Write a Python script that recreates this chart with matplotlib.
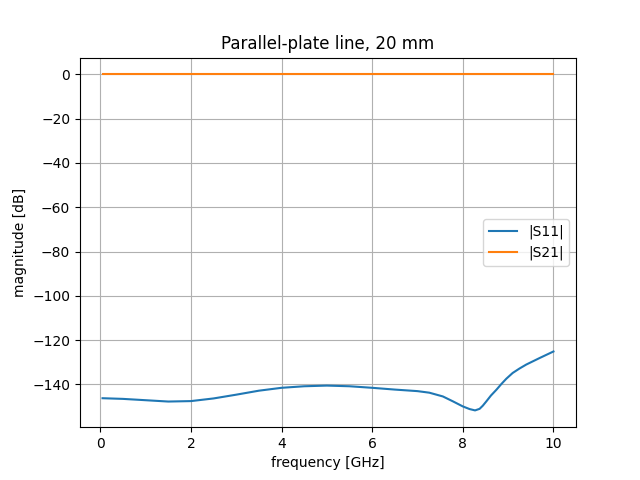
import numpy as np
import matplotlib
matplotlib.use("Agg")
import matplotlib.pyplot as plt

# values
freq_s11 = [0.05, 0.5, 1.0, 1.5, 2.0, 2.5, 3.0, 3.5, 4.0, 4.5, 5.0, 5.5, 6.0,
            6.5, 7.0, 7.26, 7.56, 7.78, 8.0, 8.15, 8.27, 8.37, 8.44, 8.52,
            8.62, 8.74, 8.85, 8.96, 9.1, 9.25, 9.4, 9.7, 10.0]
s11_db = [-146.2, -146.5, -147.1, -147.7, -147.5, -146.3, -144.6, -142.8,
          -141.5, -140.8, -140.5, -140.8, -141.5, -142.3, -143.0, -143.7,
          -145.4, -147.6, -149.9, -151.1, -151.7, -151.0, -149.6, -147.6,
          -145.0, -142.4, -139.8, -137.4, -134.8, -132.8, -131.0, -128.0,
          -125.1]

freq_s21 = [0.05, 2.5, 5.0, 7.5, 10.0]
s21_db = [0.0, 0.0, 0.0, 0.0, 0.0]

fig, ax = plt.subplots(figsize=(6.4, 4.8), dpi=100)
ax.plot(freq_s11, s11_db, label="|S11|")
ax.plot(freq_s21, s21_db, label="|S21|")
ax.set_title("Parallel-plate line, 20 mm")
ax.set_xlabel("frequency [GHz]")
ax.set_ylabel("magnitude [dB]")
ax.grid(True)
ax.legend(loc="center right")
fig.savefig("out.png")
